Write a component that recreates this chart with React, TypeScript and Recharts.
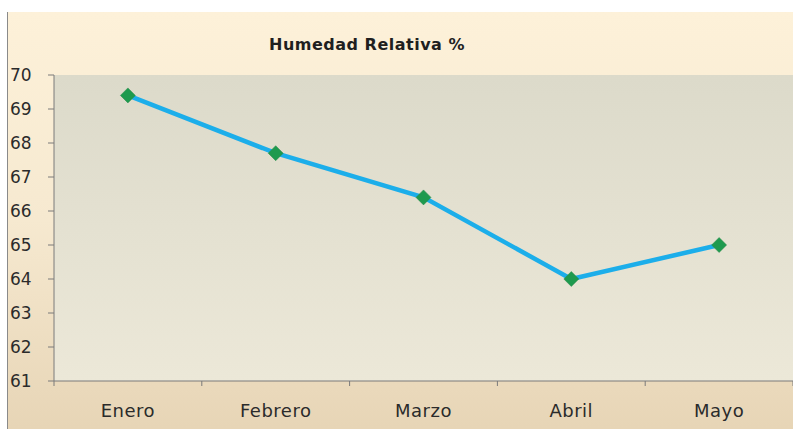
import React from "react";
import { ComposedChart, Line, XAxis, YAxis, CartesianGrid } from "recharts";

const months = ["Enero", "Febrero", "Marzo", "Abril", "Mayo"];
const humidity = [69.4, 67.7, 66.4, 64.0, 65.0];
const yTicks = [61, 62, 63, 64, 65, 66, 67, 68, 69, 70];
const title = "Humedad Relativa %";

const data = months.map((m, i) => ({ month: m, value: humidity[i] }));

const FONT = "'DejaVu Sans', Verdana, sans-serif";
const AXIS = "#7a7a7a";

const Diamond = (props: any) => {
  const { cx, cy } = props;
  if (cx == null || cy == null) return null;
  const r = 7.5;
  return (
    <polygon
      points={`${cx},${cy - r} ${cx + r},${cy} ${cx},${cy + r} ${cx - r},${cy}`}
      fill="#1E9A4E"
      stroke="#2A8A4A"
      strokeWidth={0.5}
    />
  );
};

const YTick = (props: any) => {
  const { y, payload } = props;
  return (
    <text x={2} y={y} dy="0.36em" textAnchor="start" fill="#2b2b2b" fontSize={17} fontFamily={FONT}>
      {payload.value}
    </text>
  );
};

const XTick = (props: any) => {
  const { x, y, payload, width, visibleTicksCount, index } = props;
  const band = width / (visibleTicksCount || months.length);
  const left = x - band / 2;
  const right = x + band / 2;
  return (
    <g>
      <line x1={left} x2={left} y1={y} y2={y + 5} stroke={AXIS} />
      {index === months.length - 1 && <line x1={right} x2={right} y1={y} y2={y + 5} stroke={AXIS} />}
      <text x={x} y={y} dy={36} textAnchor="middle" fill="#2b2b2b" fontSize={18} letterSpacing={0.5} fontFamily={FONT}>
        {payload.value}
      </text>
    </g>
  );
};

export default function App() {
  return (
    <div
      style={{
        position: "fixed",
        left: 7,
        top: 12,
        width: 785,
        height: 417,
        borderLeft: "1px solid #8a8a8a",
        background: "linear-gradient(to bottom, #FDF1D9 0%, #F6E9D0 50%, #E7D5B6 100%)",
      }}
    >
      <div
        style={{
          position: "absolute",
          left: 0,
          top: 23,
          width: 718,
          textAlign: "center",
          fontFamily: FONT,
          fontWeight: "bold",
          fontSize: 16,
          letterSpacing: 0.5,
          color: "#1f1f1f",
        }}
      >
        {title}
      </div>
      <ComposedChart
        width={785}
        height={417}
        data={data}
        margin={{ top: 63, right: 0, bottom: 18, left: 0 }}
        style={{ position: "absolute", left: 0, top: 0 }}
      >
        <defs>
          <linearGradient id="plotBg" x1="0" y1="0" x2="0" y2="1">
            <stop offset="0%" stopColor="#DCDACA" />
            <stop offset="100%" stopColor="#ECE8D8" />
          </linearGradient>
        </defs>
        <CartesianGrid horizontal={false} vertical={false} fill="url(#plotBg)" />
        <XAxis
          dataKey="month"
          scale="band"
          height={30}
          stroke={AXIS}
          tickLine={false}
          tickSize={0}
          tickMargin={0}
          tick={<XTick />}
          interval={0}
        />
        <YAxis
          domain={[61, 70]}
          ticks={yTicks}
          width={46}
          tickSize={6}
          stroke={AXIS}
          tick={<YTick />}
          interval={0}
        />
        <Line
          type="linear"
          dataKey="value"
          stroke="#1CAEEA"
          strokeWidth={4.5}
          dot={<Diamond />}
          activeDot={false}
          isAnimationActive={false}
        />
      </ComposedChart>
    </div>
  );
}
